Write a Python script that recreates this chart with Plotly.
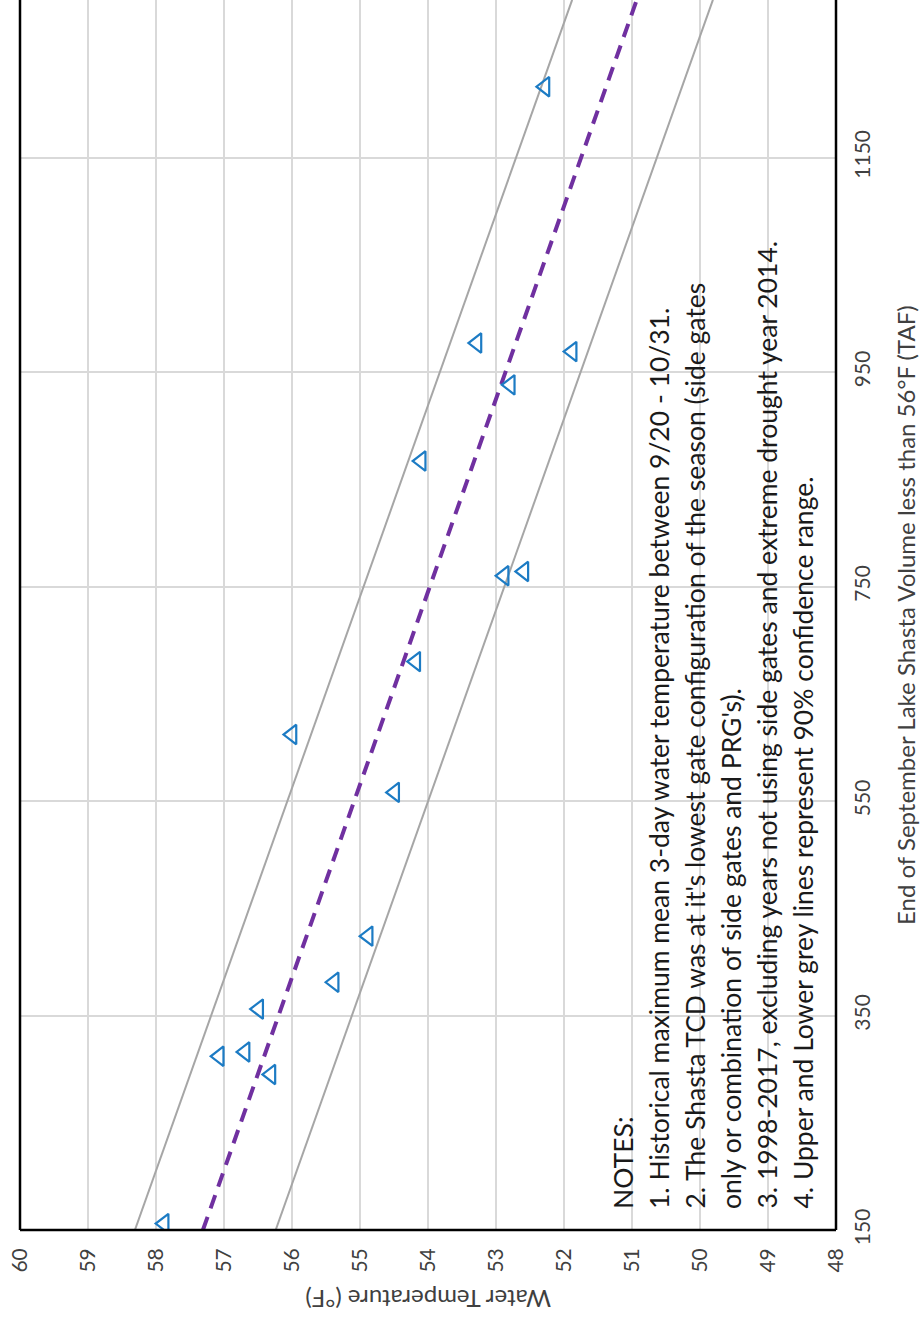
import plotly.graph_objects as go

# ---- data ----
obs_volume = [156, 295, 312, 316, 356, 381, 424, 558, 612, 680, 760, 764, 867, 938, 969, 977, 1216]
obs_temp = [57.88, 56.31, 57.07, 56.69, 56.49, 55.38, 54.88, 54.49, 56.00, 54.18, 52.88, 52.59, 54.10, 52.79, 51.88, 53.28, 52.28]

line_volume = [150, 1297]
fit_temp = [57.31, 50.93]
upper_temp = [58.31, 51.88]
lower_temp = [56.24, 49.81]

temp_ticks = list(range(48, 61))
volume_ticks = [150, 350, 550, 750, 950, 1150]

notes = [
    "NOTES:",
    "1. Historical maximum mean 3-day water temperature between 9/20 - 10/31.",
    "2. The Shasta TCD was at it's lowest gate configuration of the season (side gates",
    "only or combination of side gates and PRG's).",
    "3. 1998-2017, excluding years not using side gates and extreme drought year 2014.",
    "4. Upper and Lower grey lines represent 90% confidence range.",
]

FONT = "Lato"
W, H = 922, 1323
L, R, T = 20, 86, 0
B = H - 1230
PW, PH = W - L - R, H - T - B


def px_x(ix):
    return (ix - L) / PW


def px_y(iy):
    return (T + PH - iy) / PH


fig = go.Figure()
fig.add_trace(go.Scatter(x=upper_temp, y=line_volume, mode="lines",
                         line=dict(color="#A6A6A6", width=2), hoverinfo="skip"))
fig.add_trace(go.Scatter(x=lower_temp, y=line_volume, mode="lines",
                         line=dict(color="#A6A6A6", width=2), hoverinfo="skip"))
fig.add_trace(go.Scatter(x=fit_temp, y=line_volume, mode="lines",
                         line=dict(color="#7030A0", width=4, dash="14px,9px"), hoverinfo="skip"))
fig.add_trace(go.Scatter(x=obs_temp, y=obs_volume, mode="markers",
                         marker=dict(symbol="triangle-left-open", size=17,
                                     color="#1C7BC4", line=dict(width=2.2, color="#1C7BC4"))))

# notes (rotated text)
line_centers_px = [622.5, 658.5, 694.5, 730.5, 766.5, 802.5]
for txt, cx in zip(notes, line_centers_px):
    fig.add_annotation(text=txt, xref="paper", yref="paper",
                       x=px_x(cx), y=px_y(1211),
                       xanchor="center", yanchor="bottom", textangle=-90,
                       showarrow=False, font=dict(family=FONT, size=26.5, color="#1a1a1a"))

# axis titles
fig.add_annotation(text="Water Temperature (°F)", xref="paper", yref="paper",
                   x=px_x(428), y=px_y(1300), xanchor="center", yanchor="middle",
                   textangle=180, showarrow=False, font=dict(family=FONT, size=24, color="#404040"))
fig.add_annotation(text="End of September Lake Shasta Volume less than 56°F (TAF)", xref="paper", yref="paper",
                   x=px_x(905), y=px_y(615), xanchor="center", yanchor="middle",
                   textangle=-90, showarrow=False, font=dict(family=FONT, size=24, color="#404040"))

# plot frame: left, bottom and right edges
frame = dict(color="black", width=2.5)
fig.add_shape(type="line", xref="paper", yref="paper", x0=0, x1=0, y0=0, y1=1, line=frame, layer="above")
fig.add_shape(type="line", xref="paper", yref="paper", x0=1, x1=1, y0=0, y1=1, line=frame, layer="above")
fig.add_shape(type="line", xref="paper", yref="paper", x0=0, x1=1, y0=0, y1=0, line=frame, layer="above")

ytop = 150 + 1230 / 1.0725

fig.update_layout(
    width=W, height=H, margin=dict(l=L, r=R, t=T, b=B, autoexpand=False),
    paper_bgcolor="white", plot_bgcolor="white", showlegend=False,
    font=dict(family=FONT, size=21, color="#404040"),
    xaxis=dict(range=[60, 48], tickmode="array", tickvals=temp_ticks,
               ticktext=[str(v) for v in temp_ticks], tickangle=-90,
               showgrid=True, gridcolor="#D9D9D9", gridwidth=2,
               showline=False, zeroline=False, ticklabeloverflow="allow",
               ticks="", ticklabelstandoff=13, tickfont=dict(family=FONT, size=21, color="#404040")),
    yaxis=dict(range=[150, ytop], tickmode="array", tickvals=volume_ticks,
               ticktext=[str(v) for v in volume_ticks], tickangle=-90, side="right",
               showgrid=True, gridcolor="#D9D9D9", gridwidth=2,
               showline=False, zeroline=False, ticklabeloverflow="allow",
               ticks="", ticklabelstandoff=12, tickfont=dict(family=FONT, size=21, color="#404040")),
)

fig.write_html("out.html", config={"displayModeBar": False},
               post_script="document.body.style.margin='0';document.body.style.overflow='hidden';")
